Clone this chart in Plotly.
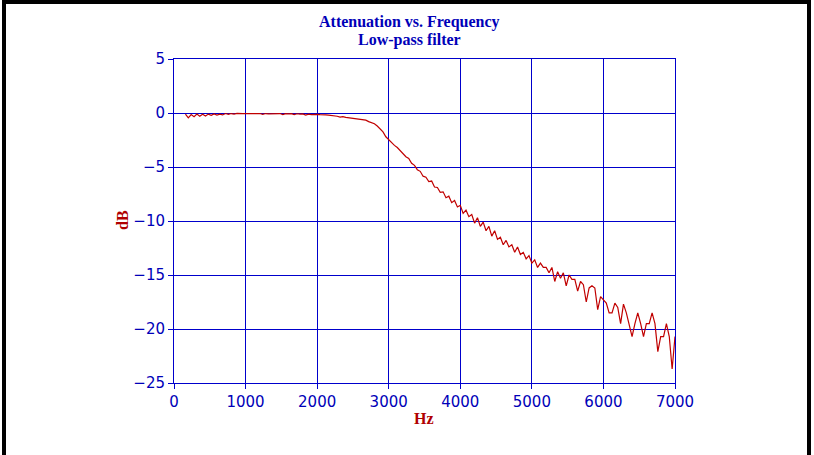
import plotly.graph_objects as go

title_lines = ["Attenuation vs. Frequency", "Low-pass filter"]
x_label = "Hz"
y_label = "dB"

freq_hz = list(range(160, 7001, 40))

atten_db = [
    # 160 - 2000 Hz
    -0.10, -0.45, -0.15, -0.35, -0.10, -0.30, -0.12, -0.28, -0.10, -0.22,
    -0.08, -0.20, -0.10, -0.18, -0.05, -0.12, -0.05, -0.10, -0.04, -0.08,
    -0.05, -0.06, -0.05, -0.10, -0.04, -0.06, -0.05, -0.12, -0.05, -0.08,
    -0.06, -0.04, -0.07, -0.05, -0.14, -0.06, -0.08, -0.06, -0.15, -0.07,
    -0.10, -0.08, -0.20, -0.10, -0.15, -0.10, -0.12,
    # 2040 - 3000 Hz
    -0.15, -0.14, -0.18, -0.20, -0.22, -0.28, -0.30, -0.38, -0.33, -0.40,
    -0.43, -0.46, -0.50, -0.52, -0.58, -0.62, -0.66, -0.80, -0.90, -1.00,
    -1.20, -1.50, -1.75, -2.20, -2.50,
    # 3040 - 4000 Hz
    -2.70, -3.00, -3.20, -3.50, -3.75, -4.05, -4.20, -4.65, -4.85, -5.25,
    -5.40, -5.85, -5.95, -6.35, -6.30, -6.85, -6.90, -7.35, -7.30, -7.85,
    -7.70, -8.30, -8.10, -8.70, -8.55,
    # 4040 - 5000 Hz
    -9.30, -9.00, -9.60, -9.40, -10.20, -9.70, -10.50, -10.10, -10.90, -10.50,
    -11.40, -10.90, -11.70, -11.50, -12.20, -11.80, -12.40, -12.20, -12.90, -12.40,
    -13.10, -12.90, -13.50, -13.20, -13.90,
    # 5040 - 6000 Hz
    -13.60, -14.30, -13.90, -14.30, -14.30, -14.80, -14.30, -15.60, -14.70, -15.30,
    -14.80, -16.00, -15.00, -15.40, -15.40, -16.50, -15.60, -15.90, -17.50, -16.20,
    -16.00, -16.20, -18.20, -17.00, -17.30,
    # 6040 - 7000 Hz
    -17.60, -18.50, -18.50, -17.60, -18.00, -19.50, -17.70, -18.50, -19.50, -20.70,
    -19.50, -18.50, -19.50, -20.70, -19.50, -19.50, -18.50, -19.50, -22.10, -20.70,
    -20.70, -19.50, -20.70, -23.70, -20.70,
]

x_ticks = [0, 1000, 2000, 3000, 4000, 5000, 6000, 7000]
y_ticks = [5, 0, -5, -10, -15, -20, -25]

BLUE = "#0000b8"
GRID = "#0000cc"
RED = "#c00000"
TXT_RED = "#b00000"

# plot area in pixels
L, R, T, B = 174, 675, 59, 383
W, H = 814, 455
PW, PH = R - L, B - T


def px(x):
    return (x - L) / PW


def py(y):
    return (B - y) / PH


fig = go.Figure()
fig.add_trace(go.Scatter(
    x=freq_hz, y=atten_db, mode="lines",
    line=dict(color=RED, width=1.2),
    hoverinfo="x+y", showlegend=False,
))

axis_common = dict(
    showgrid=True, gridcolor=GRID, gridwidth=1,
    showline=True, linecolor=GRID, linewidth=1, mirror=True,
    ticks="outside", ticklen=5, tickcolor=GRID, tickwidth=1,
    zeroline=False,
    tickfont=dict(family="DejaVu Sans, Verdana, sans-serif", size=15, color=BLUE),
)

fig.update_xaxes(range=[0, 7000], tickvals=x_ticks, **axis_common)
fig.update_yaxes(range=[-25, 5], tickvals=y_ticks, **axis_common)

serif = "Liberation Serif, Times New Roman, serif"

fig.update_layout(
    width=W, height=H,
    margin=dict(l=L, r=W - R, t=T, b=H - B, pad=0),
    paper_bgcolor="white", plot_bgcolor="white",
    annotations=[
        dict(text="<b>" + title_lines[0] + "</b>", xref="paper", yref="paper",
             x=px(409), y=py(22), xanchor="center", yanchor="middle",
             showarrow=False,
             font=dict(family=serif, size=16, color=BLUE)),
        dict(text="<b>" + title_lines[1] + "</b>", xref="paper", yref="paper",
             x=px(409), y=py(40), xanchor="center", yanchor="middle",
             showarrow=False,
             font=dict(family=serif, size=16, color=BLUE)),
        dict(text="<b>" + x_label + "</b>", xref="paper", yref="paper",
             x=px(424), y=py(418), xanchor="center", yanchor="middle",
             showarrow=False,
             font=dict(family=serif, size=16, color=TXT_RED)),
        dict(text="<b>" + y_label + "</b>", xref="paper", yref="paper", textangle=-90,
             x=px(122), y=py(220), xanchor="center", yanchor="middle",
             showarrow=False,
             font=dict(family=serif, size=16, color=TXT_RED)),
    ],
    shapes=[
        dict(type="line", xref="paper", yref="paper",
             x0=px(4), x1=px(4), y0=py(0), y1=py(460),
             line=dict(color="black", width=4)),
        dict(type="line", xref="paper", yref="paper",
             x0=px(2), x1=px(811), y0=py(2), y1=py(2),
             line=dict(color="black", width=4)),
        dict(type="line", xref="paper", yref="paper",
             x0=px(809), x1=px(809), y0=py(0), y1=py(460),
             line=dict(color="black", width=4)),
    ],
)

fig.write_html("out.html")
